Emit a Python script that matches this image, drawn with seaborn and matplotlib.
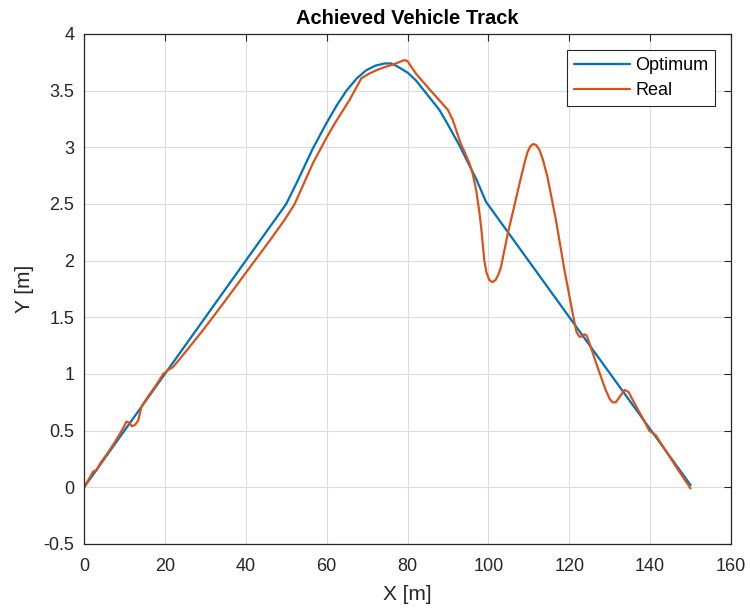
import numpy as np
import pandas as pd
import matplotlib
matplotlib.use("Agg")
import matplotlib.pyplot as plt
import seaborn as sns

# ---- data ----
opt_x = [0, 20, 50, 52.5, 56.6, 59.9, 62.5, 64.9, 67.5, 69.8, 72.0, 74.3, 76.0, 77.2,
         80.0, 82.1, 85.0, 87.9, 90.0, 92.8, 94.9, 97.0, 99.4, 150]
opt_y = [0, 1.0, 2.5, 2.68, 2.99, 3.21, 3.37, 3.50, 3.61, 3.68, 3.72, 3.74, 3.74, 3.72,
         3.66, 3.59, 3.46, 3.33, 3.20, 3.02, 2.87, 2.72, 2.52, 0.02]

real_x = [0, 1, 2.3, 3.1, 4, 6, 8, 9.5, 10.5, 11.2, 11.8, 12.6, 13.4, 14.2, 16, 18, 19.6,
          21, 22, 25, 29.5, 35, 41, 46, 49.6, 52.1, 56.6, 59.9, 62, 65.7, 68.6, 70.5, 72.3,
          74.5, 76.4, 78.5, 79.3, 80, 82.1, 85, 88, 90, 91.2, 93.2, 94.1, 95.3, 96.1, 97,
          97.8, 98.2, 99, 99.5, 100.2, 101, 101.8, 102.5, 103.1, 104.8, 106, 107.7, 109.0,
          109.7, 110.4, 111.1, 111.8, 112.6, 113.5, 114.6, 116.7, 118.8, 120.4, 121.2,
          121.8, 122.5, 123.1, 123.7, 124.3, 125.3, 127, 129, 130, 130.7, 131.5, 132.5,
          133.7, 134.7, 136, 138, 139.8, 141.4, 143, 145, 147, 150]
real_y = [0, 0.06, 0.14, 0.15, 0.21, 0.31, 0.42, 0.51, 0.58, 0.57, 0.54, 0.55, 0.59, 0.71,
          0.81, 0.91, 1.00, 1.04, 1.06, 1.19, 1.39, 1.65, 1.94, 2.18, 2.36, 2.50, 2.86,
          3.08, 3.21, 3.42, 3.61, 3.65, 3.68, 3.71, 3.73, 3.76, 3.77, 3.76, 3.65, 3.53,
          3.41, 3.33, 3.24, 3.03, 2.96, 2.86, 2.77, 2.62, 2.42, 2.30, 2.00, 1.90, 1.83,
          1.81, 1.83, 1.88, 1.94, 2.24, 2.42, 2.68, 2.87, 2.96, 3.01, 3.03, 3.02, 2.98,
          2.89, 2.74, 2.36, 1.92, 1.62, 1.47, 1.37, 1.33, 1.33, 1.35, 1.34, 1.24, 1.06,
          0.86, 0.78, 0.75, 0.75, 0.80, 0.86, 0.84, 0.75, 0.62, 0.50, 0.46, 0.37, 0.26,
          0.15, -0.01]

series_names = ["Optimum", "Real"]
colors = ["#0072BD", "#D95319"]
x_ticks = [0, 20, 40, 60, 80, 100, 120, 140, 160]
y_ticks = [-0.5, 0, 0.5, 1, 1.5, 2, 2.5, 3, 3.5, 4]
y_tick_labels = ["-0.5", "0", "0.5", "1", "1.5", "2", "2.5", "3", "3.5", "4"]

df = pd.concat([
    pd.DataFrame({"X": opt_x, "Y": opt_y, "series": series_names[0]}),
    pd.DataFrame({"X": real_x, "Y": real_y, "series": series_names[1]}),
], ignore_index=True)

sns.set_theme(style="white")
plt.rcParams["font.family"] = ["Liberation Sans", "DejaVu Sans"]

fig = plt.figure(figsize=(7.5, 6.1), dpi=100)
ax = fig.add_axes([84/750, 1 - 544/610, (731-84)/750, (544-34)/610])

sns.lineplot(data=df, x="X", y="Y", hue="series", hue_order=series_names,
             palette=colors, sort=False, estimator=None, units="series",
             linewidth=1.6, ax=ax, legend=True)

ax.set_xlim(0, 160)
ax.set_ylim(-0.5, 4)
ax.set_xticks(x_ticks)
ax.set_xticklabels([str(t) for t in x_ticks])
ax.set_yticks(y_ticks)
ax.set_yticklabels(y_tick_labels)

ax.grid(True, color="#dcdcdc", linewidth=0.8)
ax.set_axisbelow(True)
for s in ax.spines.values():
    s.set_visible(True)
    s.set_color("#262626")
    s.set_linewidth(0.9)
ax.tick_params(direction="in", length=5, width=0.8, colors="#262626",
               top=True, right=True, labelsize=13)
ax.tick_params(axis="x", pad=10)
ax.tick_params(axis="y", pad=7)
for lab in ax.get_xticklabels() + ax.get_yticklabels():
    lab.set_color("#262626")

ax.set_xlabel("X [m]", fontsize=15, color="#262626", labelpad=7)
ax.set_ylabel("Y [m]", fontsize=15, color="#262626", labelpad=7)
ax.set_title("Achieved Vehicle Track", fontsize=14.5, fontweight="bold", color="black", pad=7)

leg = ax.legend(loc="upper right", bbox_to_anchor=(0.976, 0.969), borderaxespad=0,
                fontsize=13, frameon=True, fancybox=False, framealpha=1,
                edgecolor="#262626", handlelength=3.1, handletextpad=0.3,
                labelspacing=0.45, borderpad=0.4)
leg.get_frame().set_linewidth(0.8)
for t in leg.get_texts():
    t.set_color("black")

fig.savefig("out.png", dpi=100)
